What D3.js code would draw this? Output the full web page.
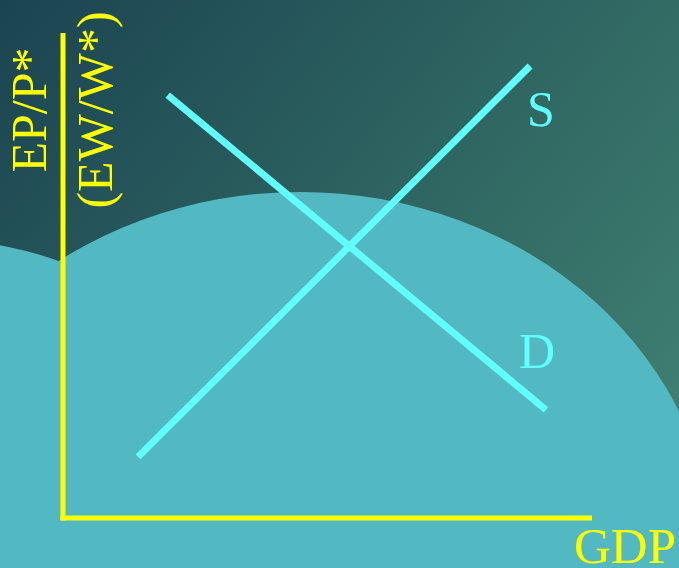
<!DOCTYPE html>
<html>
<head>
<meta charset="utf-8">
<script src="https://cdn.jsdelivr.net/npm/d3@7"></script>
<style>
  body { margin: 0; background: #1d4a55; }
  svg { display: block; }
  .axis-line { stroke: #ffff00; stroke-width: 5; }
  .curve { stroke: #62ffff; stroke-width: 7; }
  text { font-family: "Liberation Serif", "Times New Roman", serif; }
</style>
</head>
<body>
<div id="chart"></div>
<script>
// curve names and their end points (x, y in chart units 0-10)
var curveNames = ["S", "D"];
var curveStartX = [1.42, 1.98];
var curveStartY = [1.26, 8.72];
var curveEndX = [8.83, 9.13];
var curveEndY = [9.32, 2.23];

var yLabelLines = ["EP/P*", "(EW/W*)"];
var xLabel = "GDP";

var width = 679, height = 568;

var svg = d3.select("#chart").append("svg")
    .attr("width", width)
    .attr("height", height);

var defs = svg.append("defs");
var grad = defs.append("linearGradient")
    .attr("id", "bg")
    .attr("x1", 0).attr("y1", 0)
    .attr("x2", 1).attr("y2", 0.7);
grad.append("stop").attr("offset", "0%").attr("stop-color", "#1b4451");
grad.append("stop").attr("offset", "55%").attr("stop-color", "#2e6461");
grad.append("stop").attr("offset", "100%").attr("stop-color", "#3f7e70");

svg.append("rect")
    .attr("width", width)
    .attr("height", height)
    .attr("fill", "url(#bg)");

// light blobs behind the chart
svg.append("circle")
    .attr("cx", -61).attr("cy", 590).attr("r", 350)
    .attr("fill", "#52b8c2");
svg.append("ellipse")
    .attr("cx", 300).attr("cy", 562)
    .attr("rx", 415).attr("ry", 370)
    .attr("fill", "#52b8c2");

var x = d3.scaleLinear().domain([0, 10]).range([63, 592]);
var y = d3.scaleLinear().domain([0, 10]).range([518, 33]);

// axes
svg.append("line")
    .attr("class", "axis-line")
    .attr("x1", x(0)).attr("x2", x(0))
    .attr("y1", y(0) + 2.5).attr("y2", y(10));
svg.append("line")
    .attr("class", "axis-line")
    .attr("x1", x(0) - 2.5).attr("x2", x(10))
    .attr("y1", y(0)).attr("y2", y(0));

var curves = curveNames.map(function(name, i) {
    return { name: name, x1: curveStartX[i], y1: curveStartY[i], x2: curveEndX[i], y2: curveEndY[i] };
});

svg.selectAll(".curve")
    .data(curves)
    .enter()
    .append("line")
    .attr("class", "curve")
    .attr("x1", function(d) { return x(d.x1); })
    .attr("y1", function(d) { return y(d.y1); })
    .attr("x2", function(d) { return x(d.x2); })
    .attr("y2", function(d) { return y(d.y2); });

// curve labels, offset from the curve's end
var labelOffset = { S: [-3, 60], D: [-27, -42] };
svg.selectAll(".curve-label")
    .data(curves)
    .enter()
    .append("text")
    .attr("class", "curve-label")
    .attr("x", function(d) { return x(d.x2) + labelOffset[d.name][0]; })
    .attr("y", function(d) { return y(d.y2) + labelOffset[d.name][1]; })
    .attr("fill", "#62ffff")
    .attr("font-size", 50)
    .text(function(d) { return d.name; });

// y label, rotated, two lines
var yl = svg.append("text")
    .attr("transform", "translate(0,110) rotate(-90)")
    .attr("text-anchor", "middle")
    .attr("fill", "#ffff00")
    .attr("font-size", 50);
yl.selectAll("tspan")
    .data(yLabelLines)
    .enter()
    .append("tspan")
    .attr("x", 0)
    .attr("y", function(d, i) { return 46 + i * 66; })
    .text(function(d) { return d; });

svg.append("text")
    .attr("x", 574)
    .attr("y", 563)
    .attr("fill", "#ffff00")
    .attr("font-size", 51)
    .text(xLabel);
</script>
</body>
</html>
